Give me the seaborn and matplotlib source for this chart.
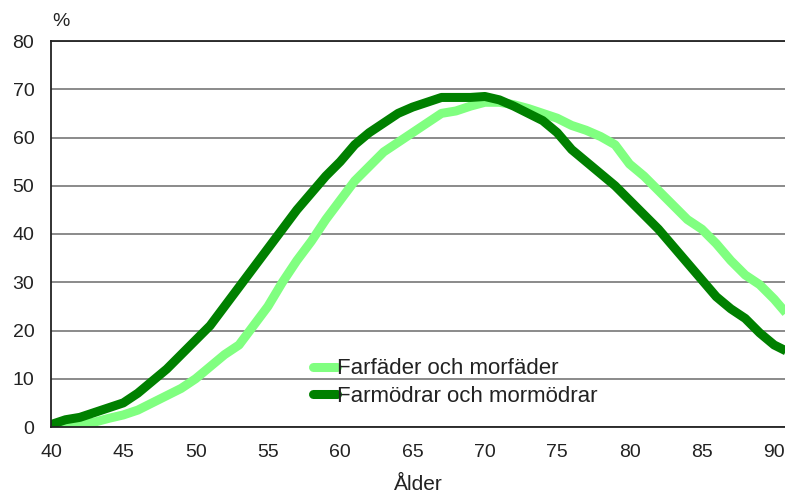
import numpy as np
import pandas as pd
import matplotlib
matplotlib.use("Agg")
import matplotlib.pyplot as plt
import seaborn as sns
from matplotlib.lines import Line2D

ages = list(range(40, 92))
farfader = [0.3, 0.5, 0.7, 1, 1.8, 2.5, 3.5, 5, 6.5, 8,
            10, 12.5, 15, 17, 21, 25, 30, 34.5, 38.5, 43,
            47, 51, 54, 57, 59, 61, 63, 65, 65.5, 66.5,
            67.3, 67.3, 66.8, 66, 65, 64, 62.5, 61.5, 60.2, 58.5,
            54.5, 52, 49, 46, 43, 41, 38, 34.5, 31.5, 29.5,
            26.5, 23]
farmodrar = [0.5, 1.5, 2, 3, 4, 5, 7, 9.5, 12, 15,
             18, 21, 25, 29, 33, 37, 41, 45, 48.5, 52,
             55, 58.5, 61, 63, 65, 66.3, 67.3, 68.3, 68.3, 68.3,
             68.5, 67.8, 66.5, 65, 63.5, 61, 57.5, 55, 52.5, 50,
             47, 44, 41, 37.5, 34, 30.5, 27, 24.5, 22.5, 19.5,
             17, 15.5]
series_names = ["Farfäder och morfäder", "Farmödrar och mormödrar"]
colors = ["#80FF80", "#008000"]
x_ticks = [40, 45, 50, 55, 60, 65, 70, 75, 80, 85, 90]
y_ticks = [0, 10, 20, 30, 40, 50, 60, 70, 80]

df = pd.DataFrame({
    "Ålder": ages * 2,
    "value": farfader + farmodrar,
    "series": [series_names[0]] * len(ages) + [series_names[1]] * len(ages),
})

sns.set_theme(style="white")
plt.rcParams["font.family"] = ["Liberation Sans", "DejaVu Sans"]
txt = "#222222"

fig = plt.figure(figsize=(7.85, 4.97), dpi=100)
ax = fig.add_axes([51 / 785, 1 - 427 / 497, 1 - 51 / 785, (427 - 41) / 497])

sns.lineplot(data=df, x="Ålder", y="value", hue="series",
             palette=dict(zip(series_names, colors)), linewidth=6.5,
             ax=ax, legend=False)
for ln in ax.get_lines():
    ln.set_solid_capstyle("butt")

ax.set_xlim(40, 90.75)
ax.set_ylim(0, 80)
ax.set_xticks(x_ticks)
ax.set_yticks(y_ticks)
ax.tick_params(axis="both", length=0, labelsize=14, colors=txt, pad=12)
ax.yaxis.grid(True, color="#777777", linewidth=1.2)
ax.xaxis.grid(False)
ax.set_axisbelow(True)
ax.spines["right"].set_visible(False)
for s in ["left", "bottom", "top"]:
    ax.spines[s].set_visible(True)
    ax.spines[s].set_color(txt)
    ax.spines[s].set_linewidth(1.3)
ax.set_xlabel("Ålder", fontsize=15, color=txt, labelpad=10)
ax.set_ylabel("")
fig.text(52 / 785, 1 - 22 / 497, "%", fontsize=14, color=txt, va="center", ha="left")

handles = [Line2D([0], [0], color=c, linewidth=6.5) for c in colors]
leg = ax.legend(handles, series_names, loc="lower left",
                bbox_to_anchor=(0.33, 0.0), frameon=False, fontsize=16,
                handlelength=1.05, handletextpad=0.0, labelspacing=0.3)
for t in leg.get_texts():
    t.set_color(txt)

fig.savefig("out.png", dpi=100)
